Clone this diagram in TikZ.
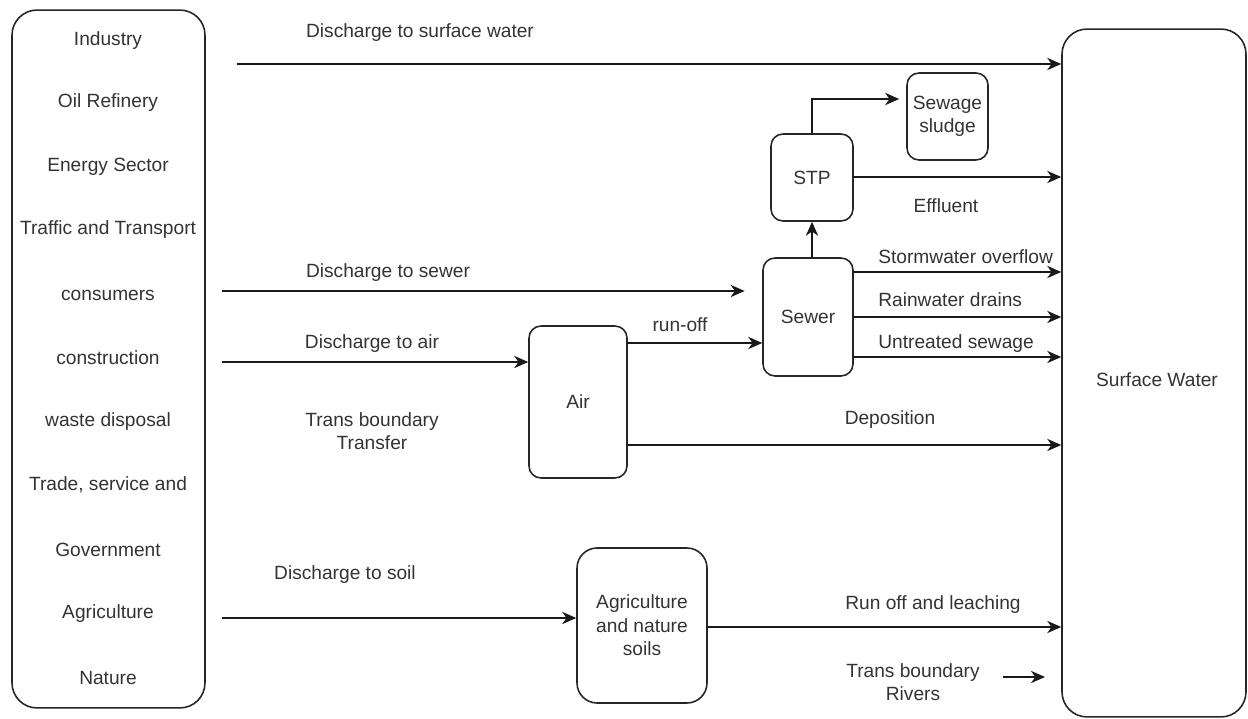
\documentclass[tikz,border=0pt]{standalone}
\usepackage{fontspec}
\setmainfont{Liberation Sans}
\usetikzlibrary{arrows.meta}
\begin{document}
\begin{tikzpicture}[x=0.02cm,y=-0.02cm,
  txt/.style={font=\fontsize{10.9}{13.3}\selectfont, text=black!80, inner sep=0pt, align=center},
  box/.style={draw=black!85, line width=0.9pt, rounded corners=0.24cm, inner sep=0pt, txt},
  arr/.style={draw=black!90, line width=0.9pt, -{Stealth[length=8pt,width=7pt,inset=2.5pt]}}]
  \useasboundingbox (0,0) rectangle (1248,719);

  % source sectors
  \node[box, rounded corners=0.5cm, minimum width=3.86cm, minimum height=13.96cm] (src) at (108.5,359) {};
  \node[txt] (s1) at (108,41) {Industry};
  \node[txt] (s2) at (108,103) {Oil Refinery};
  \node[txt] (s3) at (108,167) {Energy Sector};
  \node[txt] (s4) at (108,230) {Traffic and Transport};
  \node[txt] (s5) at (108,295) {consumers};
  \node[txt] (s6) at (108,358) {construction};
  \node[txt] (s7) at (108,422) {waste disposal};
  \node[txt] (s8) at (108,485) {Trade, service and};
  \node[txt] (s9) at (108,550) {Government};
  \node[txt] (s10) at (108,614) {Agriculture};
  \node[txt] (s11) at (108,678) {Nature};

  % receiving water body
  \node[box, rounded corners=0.5cm, minimum width=3.68cm, minimum height=13.76cm] (sw) at (1154,373) {};
  \node[txt] (swl) at (1157,380) {Surface Water};

  % intermediate compartments
  \node[box, minimum width=1.62cm, minimum height=1.74cm] (sludge) at (947.5,116.5) {Sewage\\sludge};
  \node[box, minimum width=1.64cm, minimum height=1.74cm] (stp) at (812,177.5) {STP};
  \node[box, minimum width=1.8cm, minimum height=2.36cm] (sewer) at (808,317) {Sewer};
  \node[box, minimum width=1.96cm, minimum height=3.04cm] (air) at (578,402) {Air};
  \node[box, rounded corners=0.4cm, minimum width=2.6cm, minimum height=3.1cm] (agri) at (642,625.5) {Agriculture\\and nature\\soils};

  % free ends of the discharge connectors
  \coordinate (d1) at (237,64);
  \coordinate (d2) at (222,291);
  \coordinate (d3) at (222,362);
  \coordinate (d4) at (222,618);
  \coordinate (sl) at (812,99);
  \coordinate (tb) at (1003,677);

  % direct discharge
  \draw[arr] (d1) -- (d1 -| sw.west);
  \node[txt] (l1) at (420,33) {Discharge to surface water};

  % sewer route
  \draw[arr, shorten >=10pt] (d2) -- (d2 -| sewer.west);
  \node[txt] (l2) at (388,273) {Discharge to sewer};
  \draw[arr] (stp.south |- sewer.north) -- (stp.south);
  \draw[arr, shorten >=4pt] (stp.north) -- (sl) -- (sl -| sludge.west);
  \coordinate (e1) at (853,177);
  \draw[arr] (e1) -- (e1 -| sw.west);
  \node[txt] (l3) at (946,206) {Effluent};
  \coordinate (o1) at (853,272);
  \coordinate (o2) at (853,317);
  \coordinate (o3) at (853,357);
  \draw[arr] (o1) -- (o1 -| sw.west);
  \draw[arr] (o2) -- (o2 -| sw.west);
  \draw[arr] (o3) -- (o3 -| sw.west);
  \node[txt, anchor=west] (l4) at (878,257) {Stormwater overflow};
  \node[txt, anchor=west] (l5) at (878,300) {Rainwater drains};
  \node[txt, anchor=west] (l6) at (878,344) {Untreated sewage};

  % air route
  \draw[arr] (d3) -- (d3 -| air.west);
  \node[txt] (l7) at (372,344) {Discharge to air};
  \node[txt] (l8) at (372,431) {Trans boundary\\Transfer};
  \coordinate (r1) at (627,343);
  \draw[arr] (r1) -- (r1 -| sewer.west);
  \node[txt] (l9) at (680,325) {run-off};
  \coordinate (p1) at (627,445);
  \draw[arr] (p1) -- (p1 -| sw.west);
  \node[txt] (l10) at (890,420) {Deposition};

  % soil route
  \draw[arr] (d4) -- (d4 -| agri.west);
  \node[txt] (l11) at (345,575) {Discharge to soil};
  \coordinate (q1) at (707,627);
  \draw[arr] (q1) -- (q1 -| sw.west);
  \node[txt] (l12) at (933,605) {Run off and leaching};
  \node[txt] (l13) at (913,682) {Trans boundary\\Rivers};
  \draw[arr] (tb) -- ++(42,0) coordinate (tbe);
\end{tikzpicture}
\end{document}
